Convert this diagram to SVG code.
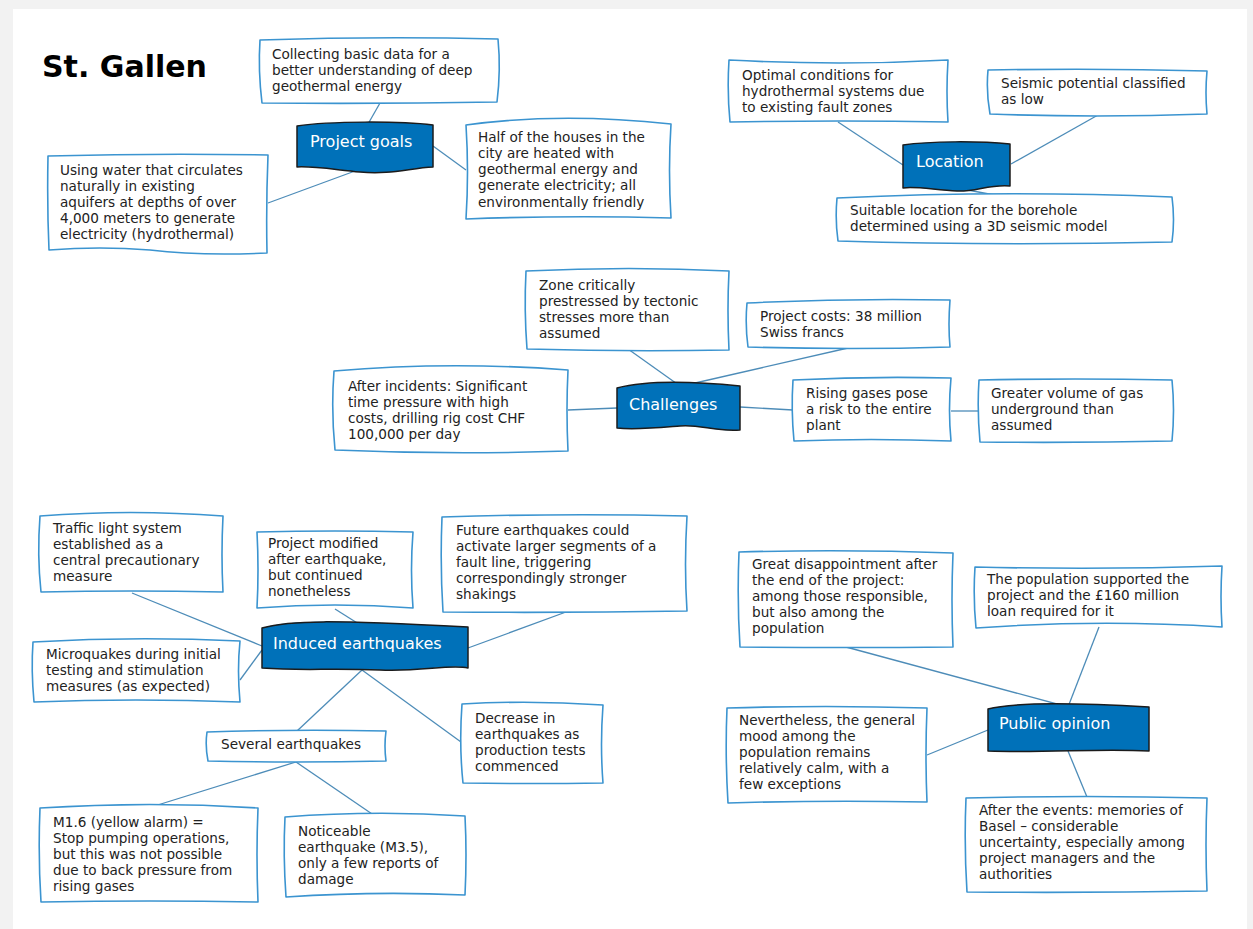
<svg xmlns="http://www.w3.org/2000/svg" width="1253" height="929" viewBox="0 0 1253 929">
<style>
.bx{fill:#fff;stroke:#3b94d0;stroke-width:1.6;stroke-linejoin:round}
.nd{fill:#0071b9;stroke:#1b1b1b;stroke-width:1.5;stroke-linejoin:round}
.cn line{stroke:#4d8cb8;stroke-width:1.3;fill:none}
.t{font-family:"DejaVu Sans",Verdana,sans-serif;font-size:13.6px;fill:#222}
.nt{font-family:"DejaVu Sans",Verdana,sans-serif;font-size:16px;fill:#fff}
.ti{font-family:"DejaVu Sans",Verdana,sans-serif;font-size:30px;font-weight:bold;fill:#000}
</style>
<rect x="0" y="0" width="1253" height="929" fill="#f2f2f2"/>
<rect x="13" y="9" width="1234" height="920" fill="#fff"/>
<text class="ti" x="42" y="77">St. Gallen</text>

<g class="cn" id="connectors">
<line x1="368" y1="124" x2="380" y2="103"/>
<line x1="355" y1="171" x2="268" y2="203"/>
<line x1="433" y1="146" x2="466" y2="170"/>
<line x1="903" y1="165" x2="838" y2="122"/>
<line x1="1011" y1="164" x2="1098" y2="115"/>
<line x1="957" y1="188" x2="1005" y2="197"/>
<line x1="680" y1="386" x2="628" y2="349"/>
<line x1="682" y1="386" x2="848" y2="348"/>
<line x1="617" y1="408" x2="568" y2="410"/>
<line x1="740" y1="407" x2="793" y2="410"/>
<line x1="951" y1="411" x2="979" y2="411"/>
<line x1="262" y1="646" x2="132" y2="593"/>
<line x1="262" y1="650" x2="240" y2="680"/>
<line x1="362" y1="626" x2="335" y2="609"/>
<line x1="468" y1="648" x2="566" y2="612"/>
<line x1="362" y1="670" x2="461" y2="742"/>
<line x1="362" y1="670" x2="297" y2="731"/>
<line x1="296" y1="762" x2="148" y2="808"/>
<line x1="296" y1="762" x2="375" y2="816"/>
<line x1="1068" y1="707" x2="846" y2="647"/>
<line x1="1068" y1="707" x2="1099" y2="627"/>
<line x1="988" y1="730" x2="927" y2="755"/>
<line x1="1068" y1="751" x2="1087" y2="797"/>
</g>

<g id="project-goals">
<path class="nd" d="M297,126 C330,121 400,121 433,125 L433,167 C410,168 390,175 360,172 C330,169 312,166 297,167 Z"/>
<text class="nt" x="310" y="147">Project goals</text>
</g>
<g id="pg-data">
<path class="bx" d="M260,40 Q380,36 498,39 Q501,70 497,102 Q380,104 262,103 Q258,70 260,40 Z"/>
<text class="t" x="272" y="59">Collecting basic data for a</text>
<text class="t" x="272" y="75">better understanding of deep</text>
<text class="t" x="272" y="91">geothermal energy</text>
</g>
<g id="pg-water">
<path class="bx" d="M48,156 Q160,153 268,155 Q266,205 267,253 Q200,256 150,250 Q100,246 49,250 Q47,205 48,156 Z"/>
<text class="t" x="60" y="175">Using water that circulates</text>
<text class="t" x="60" y="191">naturally in existing</text>
<text class="t" x="60" y="207">aquifers at depths of over</text>
<text class="t" x="60" y="223">4,000 meters to generate</text>
<text class="t" x="60" y="239">electricity (hydrothermal)</text>
</g>
<g id="pg-houses">
<path class="bx" d="M466,125 Q560,112 671,124 Q668,170 671,218 Q570,215 466,219 Q469,172 466,125 Z"/>
<text class="t" x="478" y="142">Half of the houses in the</text>
<text class="t" x="478" y="158">city are heated with</text>
<text class="t" x="478" y="174">geothermal energy and</text>
<text class="t" x="478" y="190">generate electricity; all</text>
<text class="t" x="478" y="207">environmentally friendly</text>
</g>

<g id="location">
<path class="nd" d="M903,145 C930,141 980,141 1010,144 L1010,186 C990,184 975,192 957,191 C935,190 915,186 903,188 Z"/>
<text class="nt" x="916" y="167">Location</text>
</g>
<g id="loc-optimal">
<path class="bx" d="M729,60 Q840,66 948,60 Q946,92 948,122 Q840,120 730,122 Q727,92 729,60 Z"/>
<text class="t" x="742" y="80">Optimal conditions for</text>
<text class="t" x="742" y="96">hydrothermal systems due</text>
<text class="t" x="742" y="112">to existing fault zones</text>
</g>
<g id="loc-seismic">
<path class="bx" d="M988,70 Q1100,68 1207,71 Q1205,93 1207,114 Q1095,118 990,114 Q986,92 988,70 Z"/>
<text class="t" x="1001" y="88">Seismic potential classified</text>
<text class="t" x="1001" y="104">as low</text>
</g>
<g id="loc-suitable">
<path class="bx" d="M837,198 Q1000,190 1172,197 Q1175,220 1172,242 Q1000,246 838,241 Q835,220 837,198 Z"/>
<text class="t" x="850" y="215">Suitable location for the borehole</text>
<text class="t" x="850" y="231">determined using a 3D seismic model</text>
</g>

<g id="challenges">
<path class="nd" d="M617,388 C640,382 680,380 740,386 L740,430 C715,432 700,424 680,426 C655,428 635,430 617,428 Z"/>
<text class="nt" x="629" y="410">Challenges</text>
</g>
<g id="ch-zone">
<path class="bx" d="M526,271 Q630,266 729,271 Q727,310 729,350 Q630,352 527,349 Q524,310 526,271 Z"/>
<text class="t" x="539" y="290">Zone critically</text>
<text class="t" x="539" y="306">prestressed by tectonic</text>
<text class="t" x="539" y="322">stresses more than</text>
<text class="t" x="539" y="338">assumed</text>
</g>
<g id="ch-costs">
<path class="bx" d="M747,303 Q850,298 950,300 Q948,325 950,347 Q850,350 748,347 Q745,325 747,303 Z"/>
<text class="t" x="760" y="321">Project costs: 38 million</text>
<text class="t" x="760" y="337">Swiss francs</text>
</g>
<g id="ch-time">
<path class="bx" d="M334,371 Q450,361 568,370 Q566,410 568,451 Q450,455 335,450 Q331,410 334,371 Z"/>
<text class="t" x="348" y="391">After incidents: Significant</text>
<text class="t" x="348" y="407">time pressure with high</text>
<text class="t" x="348" y="423">costs, drilling rig cost CHF</text>
<text class="t" x="348" y="439">100,000 per day</text>
</g>
<g id="ch-gases">
<path class="bx" d="M793,380 Q870,376 951,378 Q948,410 951,441 Q870,438 794,441 Q791,410 793,380 Z"/>
<text class="t" x="806" y="398">Rising gases pose</text>
<text class="t" x="806" y="414">a risk to the entire</text>
<text class="t" x="806" y="430">plant</text>
</g>
<g id="ch-volume">
<path class="bx" d="M979,380 Q1075,378 1172,380 Q1175,410 1172,441 Q1075,443 980,442 Q977,410 979,380 Z"/>
<text class="t" x="991" y="398">Greater volume of gas</text>
<text class="t" x="991" y="414">underground than</text>
<text class="t" x="991" y="430">assumed</text>
</g>

<g id="induced">
<path class="nd" d="M262,628 C290,620 330,620 468,627 L468,668 C450,664 420,672 380,670 C330,668 300,671 262,668 Z"/>
<text class="nt" x="273" y="649">Induced earthquakes</text>
</g>
<g id="ie-traffic">
<path class="bx" d="M40,516 Q130,509 223,516 Q221,555 223,592 Q130,590 41,592 Q37,555 40,516 Z"/>
<text class="t" x="53" y="533">Traffic light system</text>
<text class="t" x="53" y="549">established as a</text>
<text class="t" x="53" y="565">central precautionary</text>
<text class="t" x="53" y="581">measure</text>
</g>
<g id="ie-modified">
<path class="bx" d="M257,532 Q335,530 413,532 Q410,570 413,608 Q335,602 257,608 Q259,570 257,532 Z"/>
<text class="t" x="268" y="548">Project modified</text>
<text class="t" x="268" y="564">after earthquake,</text>
<text class="t" x="268" y="580">but continued</text>
<text class="t" x="268" y="596">nonetheless</text>
</g>
<g id="ie-future">
<path class="bx" d="M442,517 Q565,513 687,516 Q684,565 687,611 Q565,613 443,612 Q440,565 442,517 Z"/>
<text class="t" x="456" y="535">Future earthquakes could</text>
<text class="t" x="456" y="551">activate larger segments of a</text>
<text class="t" x="456" y="567">fault line, triggering</text>
<text class="t" x="456" y="583">correspondingly stronger</text>
<text class="t" x="456" y="599">shakings</text>
</g>
<g id="ie-micro">
<path class="bx" d="M33,642 Q135,636 240,641 Q237,670 240,702 Q135,698 34,702 Q31,670 33,642 Z"/>
<text class="t" x="46" y="659">Microquakes during initial</text>
<text class="t" x="46" y="675">testing and stimulation</text>
<text class="t" x="46" y="691">measures (as expected)</text>
</g>
<g id="ie-decrease">
<path class="bx" d="M462,704 Q530,700 603,705 Q600,745 603,783 Q530,784 463,783 Q459,745 462,704 Z"/>
<text class="t" x="475" y="723">Decrease in</text>
<text class="t" x="475" y="739">earthquakes as</text>
<text class="t" x="475" y="755">production tests</text>
<text class="t" x="475" y="771">commenced</text>
</g>
<g id="ie-several">
<path class="bx" d="M207,732 Q295,729 386,731 Q384,746 386,761 Q295,763 208,761 Q205,746 207,732 Z"/>
<text class="t" x="221" y="749">Several earthquakes</text>
</g>
<g id="ie-m16">
<path class="bx" d="M40,808 Q150,801 258,808 Q256,855 258,902 Q150,900 41,902 Q38,855 40,808 Z"/>
<text class="t" x="53" y="827">M1.6 (yellow alarm) =</text>
<text class="t" x="53" y="843">Stop pumping operations,</text>
<text class="t" x="53" y="859">but this was not possible</text>
<text class="t" x="53" y="875">due to back pressure from</text>
<text class="t" x="53" y="891">rising gases</text>
</g>
<g id="ie-noticeable">
<path class="bx" d="M285,817 Q375,810 465,816 Q467,855 465,895 Q375,891 286,897 Q283,855 285,817 Z"/>
<text class="t" x="298" y="836">Noticeable</text>
<text class="t" x="298" y="852">earthquake (M3.5),</text>
<text class="t" x="298" y="868">only a few reports of</text>
<text class="t" x="298" y="884">damage</text>
</g>

<g id="public-opinion">
<path class="nd" d="M988,709 C1010,703 1060,702 1149,707 L1149,751 C1100,748 1050,753 988,751 Z"/>
<text class="nt" x="999" y="729">Public opinion</text>
</g>
<g id="po-disappointment">
<path class="bx" d="M739,552 Q845,549 953,553 Q951,600 953,647 Q845,648 740,647 Q737,600 739,552 Z"/>
<text class="t" x="752" y="569">Great disappointment after</text>
<text class="t" x="752" y="585">the end of the project:</text>
<text class="t" x="752" y="601">among those responsible,</text>
<text class="t" x="752" y="617">but also among the</text>
<text class="t" x="752" y="633">population</text>
</g>
<g id="po-supported">
<path class="bx" d="M975,567 Q1100,570 1222,566 Q1220,597 1222,627 Q1100,619 976,628 Q973,597 975,567 Z"/>
<text class="t" x="987" y="584">The population supported the</text>
<text class="t" x="987" y="600">project and the £160 million</text>
<text class="t" x="987" y="616">loan required for it</text>
</g>
<g id="po-mood">
<path class="bx" d="M727,708 Q825,705 927,708 Q925,755 927,802 Q825,800 728,803 Q725,755 727,708 Z"/>
<text class="t" x="739" y="725">Nevertheless, the general</text>
<text class="t" x="739" y="741">mood among the</text>
<text class="t" x="739" y="757">population remains</text>
<text class="t" x="739" y="773">relatively calm, with a</text>
<text class="t" x="739" y="789">few exceptions</text>
</g>
<g id="po-basel">
<path class="bx" d="M966,798 Q1085,795 1207,798 Q1205,845 1207,891 Q1085,893 967,892 Q964,845 966,798 Z"/>
<text class="t" x="979" y="815">After the events: memories of</text>
<text class="t" x="979" y="831">Basel – considerable</text>
<text class="t" x="979" y="847">uncertainty, especially among</text>
<text class="t" x="979" y="863">project managers and the</text>
<text class="t" x="979" y="879">authorities</text>
</g>
</svg>
